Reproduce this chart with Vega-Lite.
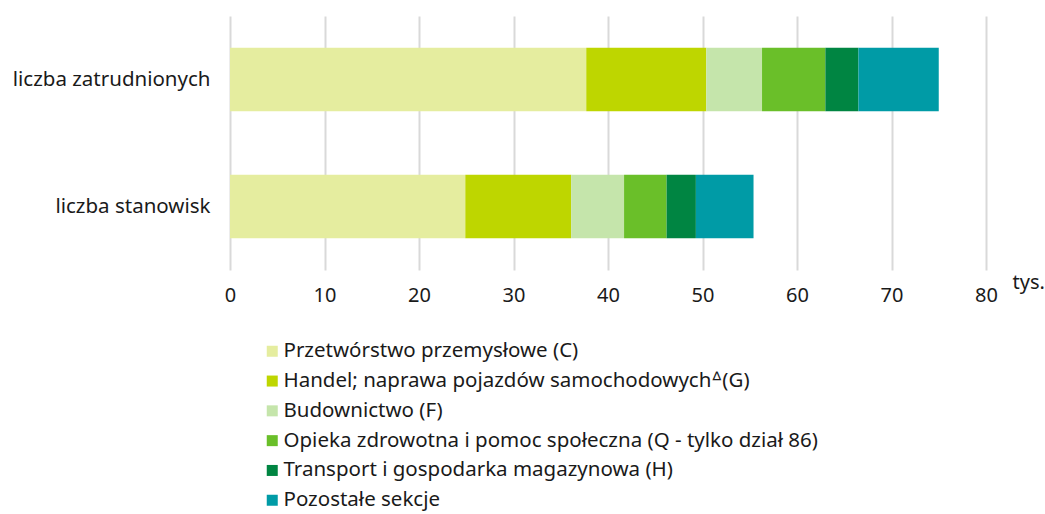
{
  "$schema": "https://vega.github.io/schema/vega-lite/v6.json",
  "width": 756,
  "height": 254,
  "autosize": {"type": "none"},
  "padding": {"left": 230, "top": 16, "right": 59, "bottom": 244},
  "background": "white",
  "config": {
    "view": {"stroke": null},
    "font": "Noto Sans",
    "text": {"font": "Noto Sans"}
  },
  "data": {
    "values": [
      {"kat": "liczba zatrudnionych", "sekcja": "Przetwórstwo przemysłowe (C)", "ord": 1, "v": 37.7},
      {"kat": "liczba zatrudnionych", "sekcja": "Handel; naprawa pojazdów samochodowychᐞ(G)", "ord": 2, "v": 12.7},
      {"kat": "liczba zatrudnionych", "sekcja": "Budownictwo (F)", "ord": 3, "v": 5.9},
      {"kat": "liczba zatrudnionych", "sekcja": "Opieka zdrowotna i pomoc społeczna (Q - tylko dział 86)", "ord": 4, "v": 6.7},
      {"kat": "liczba zatrudnionych", "sekcja": "Transport i gospodarka magazynowa (H)", "ord": 5, "v": 3.5},
      {"kat": "liczba zatrudnionych", "sekcja": "Pozostałe sekcje", "ord": 6, "v": 8.5},
      {"kat": "liczba stanowisk", "sekcja": "Przetwórstwo przemysłowe (C)", "ord": 1, "v": 24.9},
      {"kat": "liczba stanowisk", "sekcja": "Handel; naprawa pojazdów samochodowychᐞ(G)", "ord": 2, "v": 11.2},
      {"kat": "liczba stanowisk", "sekcja": "Budownictwo (F)", "ord": 3, "v": 5.6},
      {"kat": "liczba stanowisk", "sekcja": "Opieka zdrowotna i pomoc społeczna (Q - tylko dział 86)", "ord": 4, "v": 4.5},
      {"kat": "liczba stanowisk", "sekcja": "Transport i gospodarka magazynowa (H)", "ord": 5, "v": 3.1},
      {"kat": "liczba stanowisk", "sekcja": "Pozostałe sekcje", "ord": 6, "v": 6.1}
    ]
  },
  "mark": {"type": "bar"},
  "encoding": {
    "y": {
      "field": "kat",
      "type": "nominal",
      "sort": ["liczba zatrudnionych", "liczba stanowisk"],
      "scale": {"paddingInner": 0.5, "paddingOuter": 0.25},
      "axis": {
        "title": null,
        "domain": false,
        "ticks": false,
        "labelPadding": 20,
        "labelFontSize": 20.5,
        "labelColor": "#1a1a1a",
        "labelFont": "Noto Sans",
        "labelLimit": 300
      }
    },
    "x": {
      "field": "v",
      "type": "quantitative",
      "stack": "zero",
      "scale": {"domain": [0, 80], "nice": false},
      "axis": {
        "values": [0, 10, 20, 30, 40, 50, 60, 70, 80],
        "domain": false,
        "ticks": false,
        "grid": true,
        "gridColor": "#d9d9d9",
        "gridWidth": 2,
        "labelFlush": false,
        "labelPadding": 15,
        "labelFontSize": 20,
        "labelColor": "#1a1a1a",
        "labelFont": "Noto Sans",
        "title": "tys.",
        "titleFontSize": 20,
        "titleFontWeight": "normal",
        "titleColor": "#1a1a1a",
        "titleFont": "Noto Sans",
        "titleX": 782,
        "titleY": 18,
        "titleAlign": "left",
        "titleBaseline": "alphabetic"
      }
    },
    "color": {
      "field": "sekcja",
      "type": "nominal",
      "sort": null,
      "scale": {
        "domain": [
          "Przetwórstwo przemysłowe (C)",
          "Handel; naprawa pojazdów samochodowychᐞ(G)",
          "Budownictwo (F)",
          "Opieka zdrowotna i pomoc społeczna (Q - tylko dział 86)",
          "Transport i gospodarka magazynowa (H)",
          "Pozostałe sekcje"
        ],
        "range": ["#e5ed9f", "#bed600", "#c5e5ab", "#6abf29", "#008542", "#009ba6"]
      },
      "legend": {
        "title": null,
        "orient": "none",
        "legendX": 32,
        "legendY": 325,
        "direction": "vertical",
        "symbolType": "square",
        "symbolSize": 121,
        "symbolStrokeWidth": 0,
        "labelFontSize": 20.5,
        "labelFont": "Noto Sans",
        "labelColor": "#1a1a1a",
        "labelOffset": 1,
        "rowPadding": 8.8,
        "labelLimit": 760
      }
    },
    "order": {"field": "ord", "type": "quantitative"}
  }
}
